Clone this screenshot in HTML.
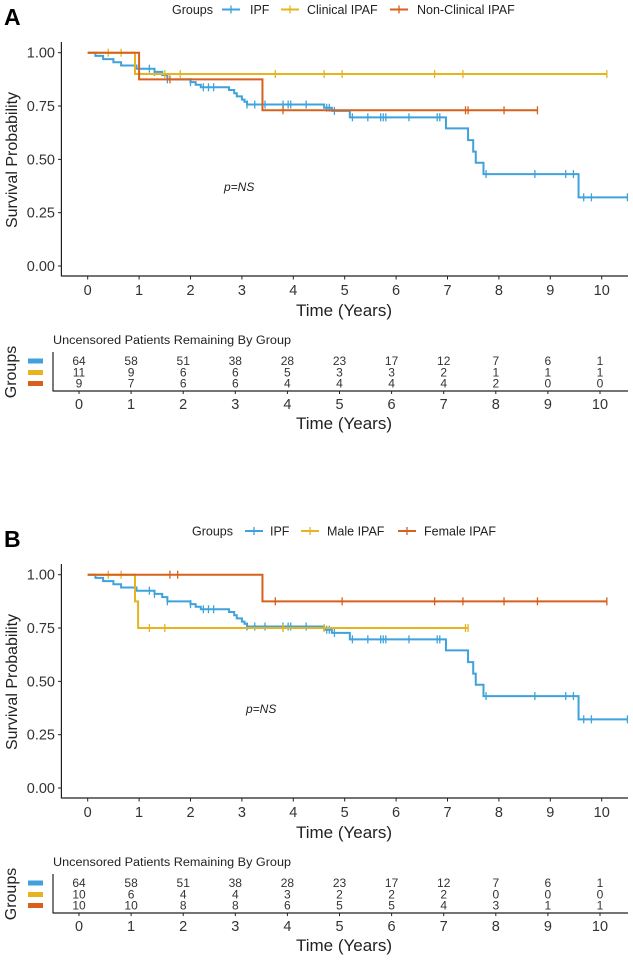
<!DOCTYPE html>
<html><head><meta charset="utf-8"><style>
html,body{margin:0;padding:0;background:#fff;}
svg{display:block;font-family:"Liberation Sans",Arial,sans-serif;}
</style></head><body>
<svg id="c" width="633" height="960" viewBox="0 0 633 960" xmlns="http://www.w3.org/2000/svg"></svg>
<script>
const NS="http://www.w3.org/2000/svg";
const COLORS=["#3fa2dc","#e5b41f","#d6601c"];
// shared IPF curve (times, survival after step)
const ipfTimes=[0,0.15,0.3,0.5,0.65,0.95,1.3,1.45,1.55,2.0,2.1,2.2,2.75,2.85,2.9,3.0,3.05,3.1,4.6,4.75,5.1,6.97,7.4,7.5,7.55,7.7,9.55];
const ipfSurv=[1,0.985,0.97,0.955,0.94,0.925,0.91,0.895,0.875,0.862,0.85,0.838,0.825,0.81,0.795,0.78,0.77,0.757,0.742,0.727,0.697,0.645,0.59,0.536,0.484,0.431,0.322];
const ipfEnd=10.5;
const ipfCensor=[1.2,1.3,1.55,2.0,2.25,2.35,2.45,3.1,3.25,3.45,3.8,3.9,3.95,4.25,4.65,4.7,4.8,5.15,5.45,5.7,5.75,5.8,6.25,6.8,6.85,7.75,8.7,9.3,9.45,9.65,9.8,10.5];
// Panel A
const aClinTimes=[0,0.92];const aClinSurv=[1,0.9];const aClinEnd=10.1;
const aClinCensor=[0.4,0.65,1.5,1.8,3.65,4.6,4.95,6.75,7.3,10.1];
const aNonTimes=[0,1.0,3.4];const aNonSurv=[1,0.875,0.73];const aNonEnd=8.75;
const aNonCensor=[1.6,3.8,7.35,7.4,8.1,8.75];
// Panel B
const bMaleTimes=[0,0.92,0.98];const bMaleSurv=[1,0.875,0.75];const bMaleEnd=7.4;
const bMaleCensor=[0.4,0.65,1.2,1.5,3.8,4.6,7.35,7.4];
const bFemTimes=[0,3.4];const bFemSurv=[1,0.875];const bFemEnd=10.1;
const bFemCensor=[1.6,1.75,3.65,4.95,6.75,7.3,8.1,8.75,10.1];
// risk tables
const yTicks=[0,0.25,0.5,0.75,1];
const yTickLabels=["0.00","0.25","0.50","0.75","1.00"];
const xTicks=[0,1,2,3,4,5,6,7,8,9,10];
const aRisk=[[64,58,51,38,28,23,17,12,7,6,1],[11,9,6,6,5,3,3,2,1,1,1],[9,7,6,6,4,4,4,4,2,0,0]];
const bRisk=[[64,58,51,38,28,23,17,12,7,6,1],[10,6,4,4,3,2,2,2,0,0,0],[10,10,8,8,6,5,5,4,3,1,1]];
const aNames=["IPF","Clinical IPAF","Non-Clinical IPAF"];
const bNames=["IPF","Male IPAF","Female IPAF"];

const svg=document.getElementById('c');
function mk(tag,attrs,parent,text){const e=document.createElementNS(NS,tag);for(const k in attrs)e.setAttribute(k,attrs[k]);if(text!==undefined)e.textContent=text;(parent||svg).appendChild(e);return e;}

function panel(off,label,names,curves,risk,legendX,pX){
  const g=mk('g',{});
  
  
  const x=t=>87.7+t*51.4;
  const y=s=>off+266-s*213.3;
  const lab=mk('text',{x:4,y:off+25,'font-size':23,'font-weight':'bold'},g,label);
  
  const lg=mk('g',{},g);
  
  const ly=(label==='A')?off+9.5:off+9;
  mk('text',{x:legendX[0],y:ly+4.5,'font-size':12.5,fill:'#222'},lg,'Groups');
  for(let i=0;i<3;i++){
    const e=mk('g',{},lg);
    
    const lx=legendX[1+i*2];
    mk('line',{x1:lx,x2:lx+18,y1:ly,y2:ly,stroke:COLORS[i],'stroke-width':2},e);
    mk('line',{x1:lx+9,x2:lx+9,y1:ly-4,y2:ly+4,stroke:COLORS[i],'stroke-width':1.3},e);
    mk('text',{x:legendX[2+i*2],y:ly+4.5,'font-size':12.5,fill:'#222'},e,names[i]);
  }
  const ax=mk('g',{},g);
  mk('line',{x1:61.4,x2:61.4,y1:off+42,y2:off+276.5,stroke:'#222','stroke-width':1.2},ax);
  yTicks.forEach((v,i)=>{mk('line',{x1:58,x2:61.4,y1:y(v),y2:y(v),stroke:'#222'},ax);
    mk('text',{x:55,y:y(v)+5,'font-size':14.5,'text-anchor':'end',fill:'#333'},ax,yTickLabels[i]);});
  const yt=mk('text',{x:0,y:0,'font-size':16,'text-anchor':'middle',fill:'#222',transform:`translate(17,${off+160}) rotate(-90)`},g,'Survival Probability');
  
  const xa=mk('g',{},g);
  mk('line',{x1:61.4,x2:628,y1:off+276,y2:off+276,stroke:'#222','stroke-width':1.2},xa);
  xTicks.forEach(v=>{mk('line',{x1:x(v),x2:x(v),y1:off+276,y2:off+279.5,stroke:'#222'},xa);
    mk('text',{x:x(v),y:off+295,'font-size':14.5,'text-anchor':'middle',fill:'#333'},xa,String(v));});
  const xt=mk('text',{x:344,y:off+316,'font-size':17,'text-anchor':'middle',fill:'#222'},g,'Time (Years)');
  
  const p=mk('text',{x:pX,y:off+191,'font-size':12,'font-style':'italic',fill:'#222'},g,'p=NS');
  
  curves.forEach((c,i)=>{
    const cg=mk('g',{},g);
    
    
    let d=`M${x(c.t[0])},${y(c.s[0])}`;
    for(let k=1;k<c.t.length;k++){d+=`H${x(c.t[k])}V${y(c.s[k])}`;}
    d+=`H${x(c.end)}`;
    mk('path',{d:d,fill:'none',stroke:COLORS[i],'stroke-width':2},cg);
    c.c.forEach(ct=>{let s=c.s[0];for(let k=0;k<c.t.length;k++)if(c.t[k]<=ct)s=c.s[k];
      const m=mk('line',{x1:x(ct),x2:x(ct),y1:y(s)-4,y2:y(s)+4,stroke:COLORS[i],'stroke-width':1.3},cg);
      });
  });
  const tg=mk('g',{},g);
  const tx=t=>79+t*52.1;
  mk('text',{x:53,y:off+344,'font-size':11.5,fill:'#222',textLength:238,lengthAdjust:'spacingAndGlyphs'},tg,'Uncensored Patients Remaining By Group');
  const rowY=[off+365,off+376.5,off+387.5];
  mk('text',{x:0,y:0,'font-size':16,'text-anchor':'middle',fill:'#222',transform:`translate(16,${off+372}) rotate(-90)`},tg,'Groups');
  for(let i=0;i<3;i++){
    mk('rect',{x:28,y:rowY[i]-6.5,width:15,height:5,fill:COLORS[i]},tg);
    risk[i].forEach((v,k)=>{mk('text',{x:tx(xTicks[k]),y:rowY[i],'font-size':12,'text-anchor':'middle',fill:'#333'},tg,String(v));});
  }
  mk('line',{x1:53,x2:53,y1:off+352,y2:off+391.5,stroke:'#222','stroke-width':1.2},tg);
  mk('line',{x1:53,x2:628,y1:off+391,y2:off+391,stroke:'#222','stroke-width':1.2},tg);
  xTicks.forEach(v=>{mk('line',{x1:tx(v),x2:tx(v),y1:off+391,y2:off+394,stroke:'#222'},tg);
    mk('text',{x:tx(v),y:off+409,'font-size':14.5,'text-anchor':'middle',fill:'#333'},tg,String(v));});
  mk('text',{x:344,y:off+429,'font-size':17,'text-anchor':'middle',fill:'#222'},tg,'Time (Years)');
}
const ipf={t:ipfTimes,s:ipfSurv,end:ipfEnd,c:ipfCensor};
panel(0,'A',aNames,[ipf,{t:aClinTimes,s:aClinSurv,end:aClinEnd,c:aClinCensor},{t:aNonTimes,s:aNonSurv,end:aNonEnd,c:aNonCensor}],aRisk,[172,222,250,281,307,390,417],224);
panel(522,'B',bNames,[ipf,{t:bMaleTimes,s:bMaleSurv,end:bMaleEnd,c:bMaleCensor},{t:bFemTimes,s:bFemSurv,end:bFemEnd,c:bFemCensor}],bRisk,[192,245,270,301,327,398,424],246);
</script>
</body></html>
